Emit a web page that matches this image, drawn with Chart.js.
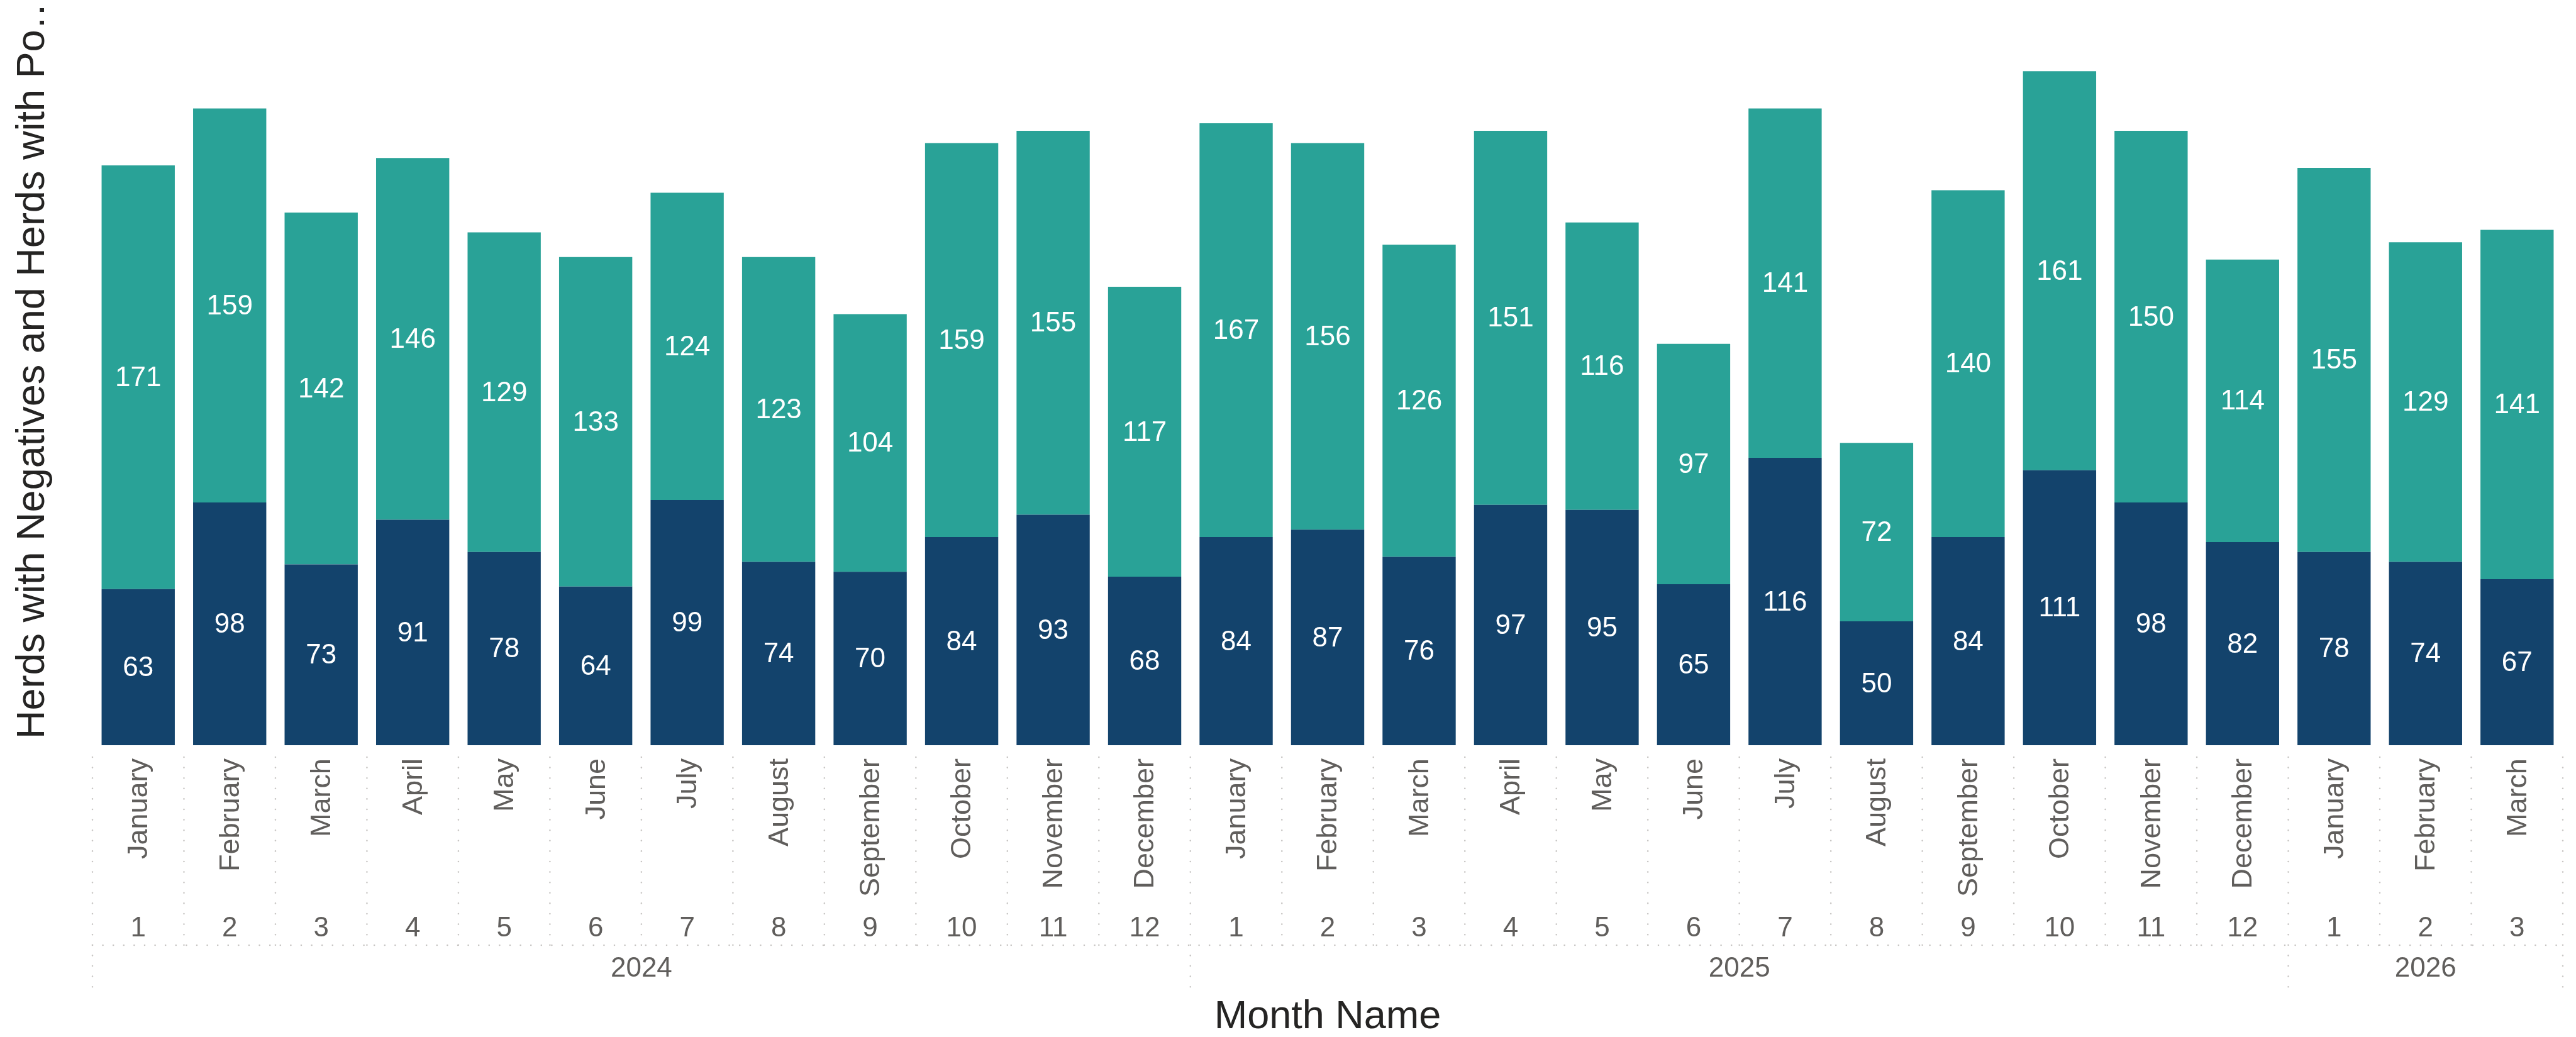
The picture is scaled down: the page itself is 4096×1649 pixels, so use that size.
<!DOCTYPE html>
<html>
<head>
<meta charset="utf-8">
<script src="https://cdn.jsdelivr.net/npm/chart.js@4.4.1/dist/chart.umd.min.js"></script>
<style>
    html, body { margin: 0; padding: 0; background: #ffffff; }
    #wrap { width: 4096px; height: 1649px; }
</style>
</head>
<body>
<div id="wrap"><canvas id="herdChart" width="4096" height="1649"></canvas></div>
<script>
// Data
const monthNames = [
    "January", "February", "March", "April", "May", "June", "July", "August", "September", "October", "November", "December",
    "January", "February", "March", "April", "May", "June", "July", "August", "September", "October", "November", "December",
    "January", "February", "March"
];
const monthNumbers = [1, 2, 3, 4, 5, 6, 7, 8, 9, 10, 11, 12, 1, 2, 3, 4, 5, 6, 7, 8, 9, 10, 11, 12, 1, 2, 3];
const years = ["2024", "2025", "2026"];
const yearMonthCounts = [12, 12, 3];

const herdsNegative = [63, 98, 73, 91, 78, 64, 99, 74, 70, 84, 93, 68, 84, 87, 76, 97, 95, 65, 116, 50, 84, 111, 98, 82, 78, 74, 67];
const herdsPositive = [171, 159, 142, 146, 129, 133, 124, 123, 104, 159, 155, 117, 167, 156, 126, 151, 116, 97, 141, 72, 140, 161, 150, 114, 155, 129, 141];

const yAxisTitle = "Herds with Negatives and Herds with Po\u2026";
const xAxisTitle = "Month Name";

const FONT = "'Liberation Sans', Arial, sans-serif";
const TICK_GREY = "#605E5C";
const TITLE_DARK = "#252423";
const DOT_GREY = "#C8C6C4";

function dottedLine(ctx, x1, y1, x2, y2) {
    ctx.beginPath();
    ctx.moveTo(x1, y1);
    ctx.lineTo(x2, y2);
    ctx.stroke();
}

// white value labels centred in each stacked segment
const segmentLabels = {
    id: "segmentLabels",
    afterDatasetsDraw(chart) {
        const ctx = chart.ctx;
        ctx.save();
        ctx.fillStyle = "#ffffff";
        ctx.font = "44px " + FONT;
        ctx.textAlign = "center";
        ctx.textBaseline = "middle";
        chart.data.datasets.forEach((ds, di) => {
            chart.getDatasetMeta(di).data.forEach((bar, i) => {
                ctx.fillText(String(ds.data[i]), bar.x, (bar.y + bar.base) / 2 + 2);
            });
        });
        ctx.restore();
    }
};

// hierarchical x axis (month name / month number / year) and axis titles
const hierarchyAxis = {
    id: "hierarchyAxis",
    afterDraw(chart) {
        const ctx = chart.ctx;
        const x = chart.scales.x;
        const area = chart.chartArea;
        const step = x.getPixelForValue(1) - x.getPixelForValue(0);
        const edge = i => x.getPixelForValue(0) - step / 2 + i * step;
        const n = monthNames.length;

        const dividerTop = 1204;
        const rowLine = 1503;
        const yearBottom = 1570;

        ctx.save();
        ctx.strokeStyle = DOT_GREY;
        ctx.lineWidth = 2.6;
        ctx.lineCap = "round";
        ctx.setLineDash([0, 16.6]);

        const yearEdges = [0];
        yearMonthCounts.forEach(c => yearEdges.push(yearEdges[yearEdges.length - 1] + c));

        for (let i = 0; i <= n; i++) {
            const bottom = yearEdges.includes(i) ? yearBottom : rowLine;
            dottedLine(ctx, edge(i), dividerTop, edge(i), bottom);
        }
        dottedLine(ctx, edge(0), rowLine, edge(n), rowLine);
        ctx.restore();

        // month names, rotated
        ctx.save();
        ctx.fillStyle = TICK_GREY;
        ctx.font = "45px " + FONT;
        ctx.textAlign = "right";
        ctx.textBaseline = "middle";
        monthNames.forEach((name, i) => {
            ctx.save();
            ctx.translate(x.getPixelForValue(i) + 2, 1206);
            ctx.rotate(-Math.PI / 2);
            ctx.fillText(name, 0, 0);
            ctx.restore();
        });

        // month numbers
        ctx.textAlign = "center";
        ctx.font = "44px " + FONT;
        monthNumbers.forEach((num, i) => {
            ctx.fillText(String(num), x.getPixelForValue(i), 1477);
        });

        // years
        years.forEach((yr, k) => {
            const cx = (edge(yearEdges[k]) + edge(yearEdges[k + 1])) / 2;
            ctx.fillText(yr, cx, 1541);
        });

        // axis titles
        ctx.fillStyle = TITLE_DARK;
        ctx.font = "63px " + FONT;
        ctx.fillText(xAxisTitle, (area.left + area.right) / 2, 1618);

        ctx.save();
        ctx.translate(70, 1175);
        ctx.rotate(-Math.PI / 2);
        ctx.textAlign = "left";
        ctx.textBaseline = "alphabetic";
        ctx.fillText(yAxisTitle, 0, 0);
        ctx.restore();

        ctx.restore();
    }
};

const ctx = document.getElementById("herdChart").getContext("2d");
new Chart(ctx, {
    type: "bar",
    data: {
        labels: monthNames,
        datasets: [
            {
                label: "Herds with Negatives",
                data: herdsNegative,
                backgroundColor: "#13436C",
                categoryPercentage: 1,
                barPercentage: 0.8
            },
            {
                label: "Herds with Positives",
                data: herdsPositive,
                backgroundColor: "#29A297",
                categoryPercentage: 1,
                barPercentage: 0.8
            }
        ]
    },
    options: {
        responsive: false,
        animation: false,
        layout: { padding: { left: 147, right: 21, top: 3, bottom: 464 } },
        plugins: {
            legend: { display: false },
            tooltip: { enabled: false }
        },
        scales: {
            x: { stacked: true, display: false },
            y: { stacked: true, display: false, min: 0, max: 300 }
        }
    },
    plugins: [segmentLabels, hierarchyAxis]
});
</script>
</body>
</html>
